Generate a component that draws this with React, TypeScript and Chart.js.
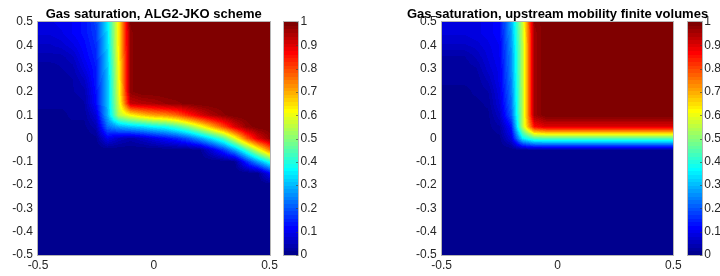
import React, { useEffect, useRef } from 'react';
import { Chart, registerables } from 'chart.js';

Chart.register(...registerables);

// ---------------- data ----------------
const xNodes = [-0.5, -0.45, -0.4, -0.35, -0.3, -0.25, -0.2, -0.15, -0.1, -0.05, 0, 0.05, 0.1, 0.15, 0.2, 0.25, 0.3, 0.35, 0.4, 0.45, 0.5];
const yNodes = [0.5, 0.45, 0.4, 0.35, 0.3, 0.25, 0.2, 0.15, 0.1, 0.05, 0, -0.05, -0.1, -0.15, -0.2, -0.25, -0.3, -0.35, -0.4, -0.45, -0.5];

// gas saturation (rows = yNodes, columns = xNodes)
const jkoSaturation = [
  [0.09, 0.09, 0.10, 0.11, 0.13, 0.18, 0.35, 0.64, 0.99, 1, 1, 1, 1, 1, 1, 1, 1, 1, 1, 1, 1],
  [0.08, 0.08, 0.09, 0.11, 0.13, 0.17, 0.34, 0.64, 0.98, 1, 1, 1, 1, 1, 1, 1, 1, 1, 1, 1, 1],
  [0.06, 0.06, 0.07, 0.09, 0.12, 0.16, 0.33, 0.64, 0.98, 1, 1, 1, 1, 1, 1, 1, 1, 1, 1, 1, 1],
  [0.04, 0.04, 0.04, 0.06, 0.11, 0.15, 0.32, 0.63, 0.98, 1, 1, 1, 1, 1, 1, 1, 1, 1, 1, 1, 1],
  [0.02, 0.02, 0.03, 0.04, 0.09, 0.14, 0.31, 0.62, 0.98, 1, 1, 1, 1, 1, 1, 1, 1, 1, 1, 1, 1],
  [0.02, 0.02, 0.02, 0.03, 0.06, 0.14, 0.30, 0.61, 0.98, 1, 1, 1, 1, 1, 1, 1, 1, 1, 1, 1, 1],
  [0.02, 0.02, 0.02, 0.03, 0.04, 0.13, 0.30, 0.60, 0.98, 1, 1, 1, 1, 1, 1, 1, 1, 1, 1, 1, 1],
  [0.02, 0.02, 0.02, 0.02, 0.03, 0.12, 0.30, 0.58, 0.92, 0.94, 0.95, 0.97, 0.98, 0.99, 1, 1, 1, 1, 1, 1, 1],
  [0.01, 0.01, 0.01, 0.02, 0.02, 0.08, 0.29, 0.55, 0.62, 0.67, 0.71, 0.73, 0.77, 0.84, 0.90, 0.95, 0.98, 1, 1, 1, 1],
  [0.01, 0.01, 0.01, 0.01, 0.01, 0.04, 0.22, 0.28, 0.31, 0.33, 0.36, 0.38, 0.43, 0.50, 0.59, 0.69, 0.79, 0.90, 0.97, 1, 1],
  [0, 0, 0, 0, 0, 0.01, 0.10, 0.06, 0.04, 0.06, 0.09, 0.12, 0.15, 0.20, 0.27, 0.35, 0.44, 0.59, 0.77, 0.90, 0.97],
  [0, 0, 0, 0, 0, 0, 0, 0, 0, 0, 0, 0, 0, 0, 0.01, 0.08, 0.16, 0.27, 0.42, 0.58, 0.74],
  [0, 0, 0, 0, 0, 0, 0, 0, 0, 0, 0, 0, 0, 0, 0, 0, 0, 0.01, 0.15, 0.27, 0.39],
  [0, 0, 0, 0, 0, 0, 0, 0, 0, 0, 0, 0, 0, 0, 0, 0, 0, 0, 0, 0.01, 0.11],
  [0, 0, 0, 0, 0, 0, 0, 0, 0, 0, 0, 0, 0, 0, 0, 0, 0, 0, 0, 0, 0],
  [0, 0, 0, 0, 0, 0, 0, 0, 0, 0, 0, 0, 0, 0, 0, 0, 0, 0, 0, 0, 0],
  [0, 0, 0, 0, 0, 0, 0, 0, 0, 0, 0, 0, 0, 0, 0, 0, 0, 0, 0, 0, 0],
  [0, 0, 0, 0, 0, 0, 0, 0, 0, 0, 0, 0, 0, 0, 0, 0, 0, 0, 0, 0, 0],
  [0, 0, 0, 0, 0, 0, 0, 0, 0, 0, 0, 0, 0, 0, 0, 0, 0, 0, 0, 0, 0],
  [0, 0, 0, 0, 0, 0, 0, 0, 0, 0, 0, 0, 0, 0, 0, 0, 0, 0, 0, 0, 0],
  [0, 0, 0, 0, 0, 0, 0, 0, 0, 0, 0, 0, 0, 0, 0, 0, 0, 0, 0, 0, 0],
];

// gas saturation
const fvSaturation = [
  [0.09, 0.09, 0.09, 0.09, 0.10, 0.12, 0.28, 0.57, 0.97, 1, 1, 1, 1, 1, 1, 1, 1, 1, 1, 1, 1],
  [0.08, 0.08, 0.08, 0.09, 0.10, 0.12, 0.27, 0.56, 0.96, 1, 1, 1, 1, 1, 1, 1, 1, 1, 1, 1, 1],
  [0.06, 0.06, 0.06, 0.07, 0.09, 0.11, 0.26, 0.55, 0.96, 1, 1, 1, 1, 1, 1, 1, 1, 1, 1, 1, 1],
  [0.03, 0.03, 0.03, 0.05, 0.08, 0.11, 0.25, 0.55, 0.96, 1, 1, 1, 1, 1, 1, 1, 1, 1, 1, 1, 1],
  [0.02, 0.02, 0.02, 0.03, 0.07, 0.10, 0.25, 0.55, 0.96, 1, 1, 1, 1, 1, 1, 1, 1, 1, 1, 1, 1],
  [0.02, 0.02, 0.02, 0.02, 0.05, 0.10, 0.24, 0.55, 0.96, 1, 1, 1, 1, 1, 1, 1, 1, 1, 1, 1, 1],
  [0.01, 0.01, 0.01, 0.02, 0.03, 0.09, 0.23, 0.55, 0.96, 1, 1, 1, 1, 1, 1, 1, 1, 1, 1, 1, 1],
  [0.01, 0.01, 0.01, 0.01, 0.02, 0.08, 0.22, 0.55, 0.96, 1, 1, 1, 1, 1, 1, 1, 1, 1, 1, 1, 1],
  [0.01, 0.01, 0.01, 0.01, 0.01, 0.06, 0.20, 0.55, 0.96, 1, 1, 1, 1, 1, 1, 1, 1, 1, 1, 1, 1],
  [0.01, 0.01, 0.01, 0.01, 0.01, 0.03, 0.13, 0.55, 0.86, 0.90, 0.90, 0.90, 0.90, 0.90, 0.90, 0.90, 0.90, 0.90, 0.90, 0.90, 0.90],
  [0, 0, 0, 0, 0, 0.01, 0.08, 0.35, 0.44, 0.45, 0.45, 0.45, 0.45, 0.45, 0.45, 0.45, 0.45, 0.45, 0.45, 0.45, 0.45],
  [0, 0, 0, 0, 0, 0, 0, 0.01, 0.01, 0.01, 0.01, 0.01, 0.01, 0.01, 0.01, 0.01, 0.01, 0.01, 0.01, 0.01, 0.01],
  [0, 0, 0, 0, 0, 0, 0, 0, 0, 0, 0, 0, 0, 0, 0, 0, 0, 0, 0, 0, 0],
  [0, 0, 0, 0, 0, 0, 0, 0, 0, 0, 0, 0, 0, 0, 0, 0, 0, 0, 0, 0, 0],
  [0, 0, 0, 0, 0, 0, 0, 0, 0, 0, 0, 0, 0, 0, 0, 0, 0, 0, 0, 0, 0],
  [0, 0, 0, 0, 0, 0, 0, 0, 0, 0, 0, 0, 0, 0, 0, 0, 0, 0, 0, 0, 0],
  [0, 0, 0, 0, 0, 0, 0, 0, 0, 0, 0, 0, 0, 0, 0, 0, 0, 0, 0, 0, 0],
  [0, 0, 0, 0, 0, 0, 0, 0, 0, 0, 0, 0, 0, 0, 0, 0, 0, 0, 0, 0, 0],
  [0, 0, 0, 0, 0, 0, 0, 0, 0, 0, 0, 0, 0, 0, 0, 0, 0, 0, 0, 0, 0],
  [0, 0, 0, 0, 0, 0, 0, 0, 0, 0, 0, 0, 0, 0, 0, 0, 0, 0, 0, 0, 0],
  [0, 0, 0, 0, 0, 0, 0, 0, 0, 0, 0, 0, 0, 0, 0, 0, 0, 0, 0, 0, 0],
];

const xTicks = [-0.5, 0, 0.5];
const yTicks = [-0.5, -0.4, -0.3, -0.2, -0.1, 0, 0.1, 0.2, 0.3, 0.4, 0.5];
const colorbarTicks = [0, 0.1, 0.2, 0.3, 0.4, 0.5, 0.6, 0.7, 0.8, 0.9, 1];
const titleLeft = 'Gas saturation, ALG2-JKO scheme';
const titleRight = 'Gas saturation, upstream mobility finite volumes';

// ---------------- styling helpers ----------------
const FONT = '"Liberation Sans", Arial, Helvetica, sans-serif';
const TICK_COLOR = '#262626';

// MATLAB jet(64)
function jet64(k: number): [number, number, number] {
  let r = 0, g = 0, b = 0;
  if (k >= 25 && k <= 40) r = (k - 24) / 16;
  else if (k >= 41 && k <= 55) r = 1;
  else if (k >= 56) r = 1 - (k - 56) / 16;
  if (k >= 9 && k <= 24) g = (k - 8) / 16;
  else if (k >= 25 && k <= 39) g = 1;
  else if (k >= 40 && k <= 55) g = 1 - (k - 40) / 16;
  if (k <= 8) b = (k + 8) / 16;
  else if (k <= 23) b = 1;
  else if (k <= 39) b = 1 - (k - 24) / 16;
  return [Math.round(r * 255), Math.round(g * 255), Math.round(b * 255)];
}
const PALETTE = Array.from({ length: 65 }, (_, k) => (k === 0 ? [0, 0, 0] : jet64(k)));
function colorIndex(v: number) {
  return Math.min(64, Math.max(1, Math.floor(v * 64) + 1));
}

function makeHeatmapPlugin(z: number[][], title: string) {
  return {
    id: 'satHeatmap',
    beforeDatasetsDraw(chart: any) {
      const ctx = chart.ctx;
      const xs = chart.scales.x;
      const ys = chart.scales.y;
      const a = chart.chartArea;
      const L = Math.round(a.left), R = Math.round(a.right);
      const T = Math.round(a.top), B = Math.round(a.bottom);
      const w = R - L, h = B - T;
      const nx = xNodes.length, ny = yNodes.length;
      const dx = xNodes[1] - xNodes[0];
      const dy = yNodes[1] - yNodes[0];
      const ci = new Int32Array(w), ct = new Float64Array(w);
      for (let p = 0; p < w; p++) {
        const xv = xs.getValueForPixel(L + p + 0.5);
        const f = (xv - xNodes[0]) / dx;
        let i = Math.floor(f);
        if (i < 0) i = 0;
        if (i > nx - 2) i = nx - 2;
        ci[p] = i;
        ct[p] = Math.min(1, Math.max(0, f - i));
      }
      const rj = new Int32Array(h), rt = new Float64Array(h);
      for (let q = 0; q < h; q++) {
        const yv = ys.getValueForPixel(T + q + 0.5);
        const f = (yv - yNodes[0]) / dy;
        let j = Math.floor(f);
        if (j < 0) j = 0;
        if (j > ny - 2) j = ny - 2;
        rj[q] = j;
        rt[q] = Math.min(1, Math.max(0, f - j));
      }
      const img = ctx.createImageData(w, h);
      const d = img.data;
      for (let q = 0; q < h; q++) {
        const j = rj[q], ty = rt[q];
        const r0 = z[j], r1 = z[j + 1];
        for (let p = 0; p < w; p++) {
          const i = ci[p], tx = ct[p];
          const v =
            r0[i] * (1 - tx) * (1 - ty) + r0[i + 1] * tx * (1 - ty) +
            r1[i] * (1 - tx) * ty + r1[i + 1] * tx * ty;
          const c = PALETTE[colorIndex(v)];
          const o = (q * w + p) * 4;
          d[o] = c[0]; d[o + 1] = c[1]; d[o + 2] = c[2]; d[o + 3] = 255;
        }
      }
      ctx.putImageData(img, L, T);
      ctx.save();
      ctx.strokeStyle = 'rgba(120,120,120,0.55)';
      ctx.lineWidth = 1;
      ctx.strokeRect(L - 0.5, T - 0.5, w + 1, h + 1);
      ctx.restore();
    },
    afterDraw(chart: any) {
      const ctx = chart.ctx;
      const a = chart.chartArea;
      const cb = chart.scales.cb;
      const x0 = Math.round(cb.left + 14.7);
      const x1 = Math.round(cb.left + 28.4);
      ctx.save();
      for (let k = 1; k <= 64; k++) {
        const yA = Math.round(cb.getPixelForValue((k - 1) / 64));
        const yB = Math.round(cb.getPixelForValue(k / 64));
        const c = PALETTE[k];
        ctx.fillStyle = `rgb(${c[0]},${c[1]},${c[2]})`;
        ctx.fillRect(x0, yB, x1 - x0, yA - yB);
      }
      const top = Math.round(cb.getPixelForValue(1));
      const bot = Math.round(cb.getPixelForValue(0));
      ctx.strokeStyle = 'rgba(120,120,120,0.55)';
      ctx.lineWidth = 1;
      ctx.strokeRect(x0 - 0.5, top - 0.5, x1 - x0 + 1, bot - top + 1);
      ctx.strokeStyle = 'rgba(60,60,60,0.6)';
      for (const t of colorbarTicks) {
        const y = Math.round(cb.getPixelForValue(t)) + 0.5;
        ctx.beginPath();
        ctx.moveTo(x1 - 2, y);
        ctx.lineTo(x1, y);
        ctx.stroke();
      }
      // title, centred over the plot area
      ctx.fillStyle = '#000';
      ctx.font = `bold 13px ${FONT}`;
      ctx.textAlign = 'center';
      ctx.textBaseline = 'alphabetic';
      ctx.fillText(title, (a.left + a.right) / 2, a.top - 4.2);
      ctx.restore();
    },
  };
}

type PanelProps = {
  title: string;
  z: number[][];
  left: number;
  yAxisWidth: number;
  cbWidth: number;
};

function Panel({ title, z, left, yAxisWidth, cbWidth }: PanelProps) {
  const ref = useRef<HTMLCanvasElement | null>(null);
  useEffect(() => {
    if (!ref.current) return;
    const tickFont = { family: FONT, size: 12 };
    const fmt = (v: any) => String(v);
    const chart = new Chart(ref.current, {
      type: 'scatter',
      data: { datasets: [] },
      options: {
        responsive: false,
        animation: false,
        devicePixelRatio: 1,
        layout: { padding: { top: 22, left: 0, right: 0, bottom: 0 } },
        plugins: {
          legend: { display: false },
          tooltip: { enabled: false },
          title: { display: false },
        },
        scales: {
          x: {
            type: 'linear',
            position: 'bottom',
            min: -0.5,
            max: 0.5,
            afterBuildTicks: (s: any) => { s.ticks = xTicks.map((v) => ({ value: v })); },
            afterFit: (s: any) => { s.height = 21; },
            grid: { display: false, drawTicks: false },
            border: { display: false },
            ticks: { color: TICK_COLOR, font: tickFont, padding: 3, maxRotation: 0, autoSkip: false, callback: fmt },
          },
          y: {
            type: 'linear',
            position: 'left',
            min: -0.5,
            max: 0.5,
            afterBuildTicks: (s: any) => { s.ticks = yTicks.map((v) => ({ value: v })); },
            afterFit: (s: any) => { s.width = yAxisWidth; },
            grid: { display: false, drawTicks: false },
            border: { display: false },
            ticks: { color: TICK_COLOR, font: tickFont, padding: 5, autoSkip: false, callback: fmt },
          },
          cb: {
            type: 'linear',
            position: 'right',
            min: 0,
            max: 1,
            afterBuildTicks: (s: any) => { s.ticks = colorbarTicks.map((v) => ({ value: v })); },
            afterFit: (s: any) => { s.width = cbWidth; },
            grid: { display: true, drawOnChartArea: false, drawTicks: true, tickLength: 28, color: 'rgba(0,0,0,0)' },
            border: { display: false },
            ticks: { color: TICK_COLOR, font: tickFont, padding: 3, autoSkip: false, callback: fmt },
          },
        },
      } as any,
      plugins: [makeHeatmapPlugin(z, title)],
    });
    return () => chart.destroy();
  }, [title, z, yAxisWidth, cbWidth]);
  return (
    <canvas
      ref={ref}
      width={360}
      height={276}
      style={{ position: 'absolute', left, top: 0, width: 360, height: 276, display: 'block' }}
    />
  );
}

export default function App() {
  return (
    <div style={{ position: 'fixed', left: 0, top: 0, width: 720, height: 276, background: '#fff', overflow: 'hidden' }}>
      <Panel title={titleLeft} z={jkoSaturation} left={0} yAxisWidth={38} cbWidth={90.5} />
      <Panel title={titleRight} z={fvSaturation} left={360} yAxisWidth={81.7} cbWidth={46.7} />
    </div>
  );
}
